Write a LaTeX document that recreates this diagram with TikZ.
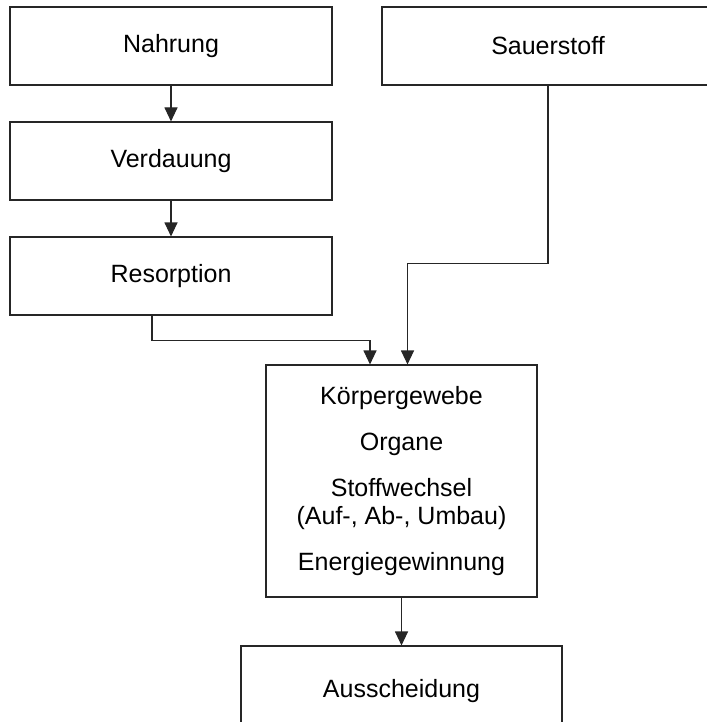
\documentclass[tikz,border=0pt]{standalone}
\usepackage{fontspec}
\setmainfont{Liberation Sans}
\usepackage{tikz}
\usetikzlibrary{arrows.meta}

\begin{document}
\begin{tikzpicture}[x=1pt,y=-1pt,
	box/.style={draw=black!85, line width=1.1pt, minimum width=322pt, minimum height=78pt, inner sep=0pt, font=\fontsize{25}{28}\selectfont, align=center},
	arr/.style={draw=black!85, line width=1.1pt, -{Triangle[length=14pt,width=13pt]}}]
	\useasboundingbox (0,0) rectangle (706,722);
	\node[box] (nahrung) at (171,46) {Nahrung};
	\node[box] (verdauung) at (171,161) {Verdauung};
	\node[box] (resorption) at (171,276) {Resorption};
	\node[box, minimum width=332pt] (sauerstoff) at (548,46) {Sauerstoff};
	\node[box, minimum width=271pt, minimum height=232pt] (koerper) at (401.5,481) {K\"orpergewebe\\[18pt]Organe\\[18pt]Stoffwechsel\\(Auf-, Ab-, Umbau)\\[18pt]Energiegewinnung};
	\node[box, minimum width=321pt, minimum height=90pt] (ausscheidung) at (401.5,691) {Ausscheidung};
	\draw[arr] (nahrung) -- (verdauung);
	\draw[arr] (verdauung) -- (resorption);
	\draw[arr] ([xshift=-19pt]resorption.south) -- ++(0,25) -| ([xshift=-31.5pt]koerper.north);
	\draw[arr] (sauerstoff.south) -- ++(0,178) -| ([xshift=6pt]koerper.north);
	\draw[arr] (koerper) -- (ausscheidung);
\end{tikzpicture}
\end{document}
